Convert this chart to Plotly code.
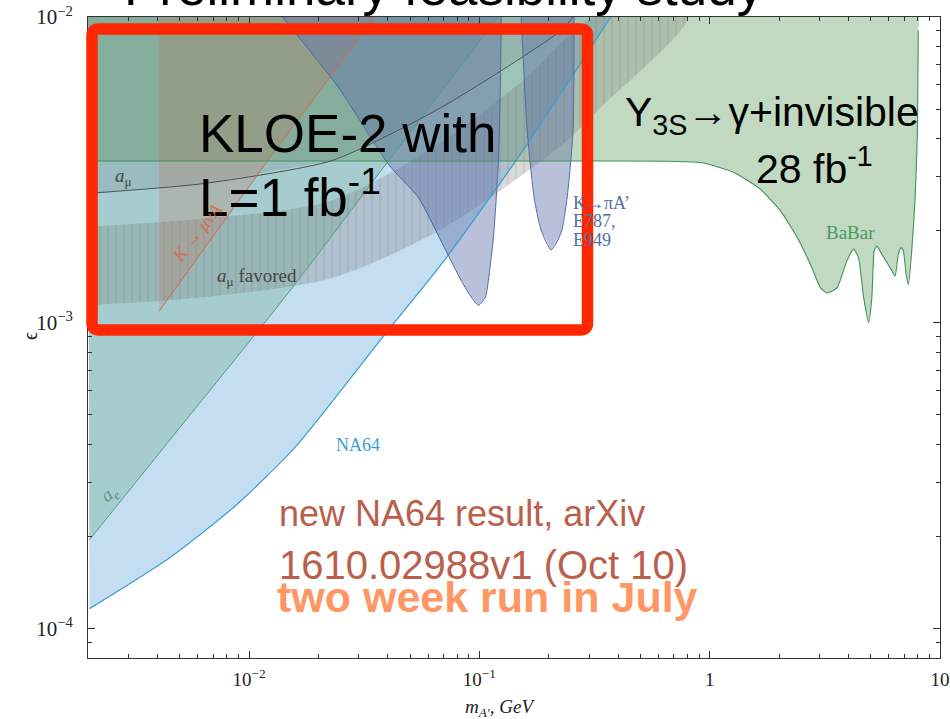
import plotly.graph_objects as go

# ---------------- data (m in GeV, eps) ----------------
M_MIN, M_MAX = 0.002, 10.0
EPS_MIN, EPS_MAX = 8.0e-5, 1.0e-2

# NA64 lower boundary
na64_m = [0.00203, 0.00451, 0.00869, 0.0158, 0.0388, 0.0705, 0.157, 0.372]
na64_eps = [1.16e-4, 1.70e-4, 2.51e-4, 3.90e-4, 9.14e-4, 1.60e-3, 3.72e-3, 1.0e-2]

# a_e boundary
ae_m = [0.00203, 0.00501, 0.0143, 0.0404, 0.0794, 0.120]
ae_eps = [1.95e-4, 4.54e-4, 1.21e-3, 3.39e-3, 6.61e-3, 1.0e-2]

# BaBar (Y3S -> gamma + invisible)
babar_m = [0.00203, 0.337, 0.914, 1.274, 1.663, 2.03, 2.40, 2.74, 3.03, 3.24, 3.57,
           3.94, 4.22, 4.43, 4.66, 4.90, 5.06, 5.18, 5.32, 5.60, 6.08, 6.38, 6.59,
           6.78, 6.93, 7.13, 7.29, 7.54, 7.80, 7.98, 8.05, 8.05]
babar_eps = [3.38e-3, 3.38e-3, 3.34e-3, 3.10e-3, 2.73e-3, 2.32e-3, 1.90e-3, 1.55e-3,
             1.30e-3, 1.25e-3, 1.30e-3, 1.59e-3, 1.74e-3, 1.63e-3, 1.21e-3, 1.00e-3,
             1.21e-3, 1.72e-3, 1.78e-3, 1.67e-3, 1.51e-3, 1.42e-3, 1.67e-3, 1.76e-3,
             1.72e-3, 1.44e-3, 1.33e-3, 1.72e-3, 2.56e-3, 4.24e-3, 9.02e-3, 1.0e-2]

# a_mu exclusion line
amu_m = [0.00203, 0.00631, 0.0229, 0.0684, 0.2265, 0.255]
amu_eps = [2.65e-3, 2.85e-3, 3.39e-3, 5.06e-3, 9.03e-3, 1.0e-2]

# a_mu favoured band (lower and upper edges)
band_lo_m = [0.00203, 0.00631, 0.0229, 0.0684, 0.2265, 0.337, 0.80]
band_lo_eps = [1.14e-3, 1.21e-3, 1.40e-3, 2.02e-3, 3.80e-3, 5.06e-3, 1.0e-2]
band_hi_m = [0.00203, 0.00631, 0.0229, 0.0684, 0.1585, 0.316]
band_hi_eps = [2.06e-3, 2.19e-3, 2.51e-3, 3.89e-3, 6.31e-3, 1.0e-2]

# K -> mu nu A'
kmu_m = [0.00407, 0.0126, 0.0351]
kmu_eps = [1.09e-3, 3.55e-3, 1.0e-2]

# K -> pi A' (E787, E949), two lobes
kpi1_m = [0.0140, 0.0245, 0.0404, 0.0545, 0.0705, 0.0836, 0.0923, 0.0991, 0.1062,
          0.1094, 0.1151, 0.1208, 0.1233, 0.1245]
kpi1_eps = [1.0e-2, 5.87e-3, 3.29e-3, 2.56e-3, 1.76e-3, 1.37e-3, 1.21e-3, 1.14e-3,
            1.21e-3, 1.37e-3, 1.90e-3, 3.29e-3, 5.87e-3, 1.0e-2]
kpi2_m = [0.152, 0.1614, 0.173, 0.1854, 0.205, 0.2265, 0.2404, 0.2553, 0.2576]
kpi2_eps = [1.0e-2, 4.25e-3, 2.56e-3, 2.01e-3, 1.73e-3, 1.97e-3, 2.56e-3, 4.25e-3, 1.0e-2]

x_tickvals = [0.01, 0.1, 1, 10]
x_ticktext = ["10<sup>\u22122</sup>", "10<sup>\u22121</sup>", "1", "10"]
y_tickvals = [1e-4, 1e-3, 1e-2]
y_ticktext = ["10<sup>\u22124</sup>", "10<sup>\u22123</sup>", "10<sup>\u22122</sup>"]

# ---------------- figure ----------------
fig = go.Figure()

def region(xs, ys, fill):
    fig.add_trace(go.Scatter(x=xs, y=ys, mode="lines", fill="toself", fillcolor=fill,
                             line=dict(width=0), hoverinfo="skip", showlegend=False))

def curve(xs, ys, color, width=1.1, shape="spline", smoothing=0.6):
    fig.add_trace(go.Scatter(x=xs, y=ys, mode="lines",
                             line=dict(color=color, width=width, shape=shape, smoothing=smoothing),
                             hoverinfo="skip", showlegend=False))

# NA64 (region above the curve)
region(na64_m + [M_MIN], na64_eps + [EPS_MAX], "rgba(110,170,220,0.40)")
# a_e
region(ae_m + [M_MIN], ae_eps + [EPS_MAX], "rgba(100,170,140,0.32)")
# BaBar
fig.add_trace(go.Scatter(x=babar_m + [M_MIN], y=babar_eps + [EPS_MAX], mode="lines",
                         fill="toself", fillcolor="rgba(100,160,100,0.40)",
                         line=dict(width=0, shape="spline", smoothing=0.5),
                         hoverinfo="skip", showlegend=False))
# a_mu exclusion
region(amu_m + [M_MIN], amu_eps + [EPS_MAX], "rgba(100,100,115,0.16)")
# a_mu favoured band (hatched)
fig.add_trace(go.Scatter(
    x=band_lo_m + band_hi_m[::-1],
    y=band_lo_eps + band_hi_eps[::-1],
    mode="lines", fill="toself", fillcolor="rgba(120,120,120,0.30)",
    fillpattern=dict(shape="|", size=8, solidity=0.12,
                     fgcolor="rgba(90,90,90,0.45)", bgcolor="rgba(120,120,120,0.28)"),
    line=dict(width=0, shape="spline", smoothing=0.8), hoverinfo="skip", showlegend=False))
# K -> mu nu A
region([kmu_m[0]] + kmu_m, [EPS_MAX] + kmu_eps, "rgba(190,115,80,0.25)")
# K -> pi A
region(kpi1_m, kpi1_eps, "rgba(100,115,170,0.45)")
region(kpi2_m, kpi2_eps, "rgba(100,115,170,0.45)")

curve(na64_m, na64_eps, "#3a9fd2", 1.3)
curve(ae_m, ae_eps, "#4e9e7e", 1.0)
curve(babar_m[:-1], babar_eps[:-1], "#3f9258", 1.1, "spline", 0.5)
curve(amu_m, amu_eps, "#4d4d55", 1.0)
curve(kmu_m, kmu_eps, "#d46a4a", 1.0, "linear")
curve(kpi1_m, kpi1_eps, "#4a6aa8", 1.0)
curve(kpi2_m, kpi2_eps, "#4a6aa8", 1.0)

# minor ticks
x_minor = [k * 10.0 ** e for e in range(-3, 1) for k in range(2, 10)]
y_minor = [k * 10.0 ** e for e in range(-5, -2) for k in range(2, 10)]

axis_common = dict(type="log", showgrid=False, zeroline=False, showline=True,
                   linecolor="#333", linewidth=1, mirror="ticks", ticks="inside",
                   ticklen=7, tickcolor="#333", automargin=False)

fig.update_xaxes(range=[-2.699, 1.0], tickvals=x_tickvals, ticktext=x_ticktext,
                 ticklabelstandoff=4,
                 tickfont=dict(family="Liberation Serif", size=19, color="#222"),
                 minor=dict(tickvals=x_minor, ticks="inside", ticklen=4, tickcolor="#333"),
                 **axis_common)
fig.update_yaxes(range=[-4.097, -2.0], tickvals=y_tickvals, ticktext=y_ticktext,
                 ticklabelstandoff=10,
                 tickfont=dict(family="Liberation Serif", size=21, color="#222"),
                 minor=dict(tickvals=y_minor, ticks="inside", ticklen=4, tickcolor="#333"),
                 **axis_common)

L, R, T, B = 88, 940, 17, 658
def P(px, py):
    return (px - L) / (R - L), (B - py) / (B - T)

def ann(text, px, py, size, color, family="Liberation Sans", xanchor="left",
        angle=0, yanchor="middle"):
    x, y = P(px, py)
    return dict(text=text, x=x, y=y, xref="paper", yref="paper", showarrow=False,
                xanchor=xanchor, yanchor=yanchor, textangle=angle,
                font=dict(family=family, size=size, color=color))

serif = "Liberation Serif"
brown = "rgb(185,95,75)"
kpi_col = "#5070a8"
anns = [
    ann("Preliminary feasibility study", 444, -13, 53, "black", xanchor="center"),
    ann("KLOE-2 with", 197, 133, 53, "black"),
    ann("L=1 fb<sup>-1</sup>", 197, 193, 53, "black"),
    ann("Y<sub>3S</sub>\u2192\u03b3+invisible", 623, 115, 41, "black"),
    ann("28 fb<sup>-1</sup>", 754, 166, 41, "black"),
    ann("new NA64 result, arXiv", 277, 513, 36, brown),
    ann("1610.02988v1 (Oct 10)", 277, 565, 40, brown),
    ann("<b>two week run in July</b>", 275, 597, 43, "rgb(255,150,100)"),
    ann("NA64", 358, 445, 18, "#3a9fd2", family=serif, xanchor="center"),
    ann("BaBar", 850, 232, 19, "#4d9a62", family=serif, xanchor="center"),
    ann("K\u2192\u03c0A\u2019", 571, 203, 18, kpi_col, family=serif),
    ann("E787,", 571, 221, 18, kpi_col, family=serif),
    ann("E949", 571, 240, 18, kpi_col, family=serif),
    ann("<i>a</i><sub>\u03bc</sub>", 123, 177, 19, "#444", family=serif, xanchor="center"),
    ann("<i>a</i><sub>\u03bc</sub> favored", 257, 277, 19, "#444", family=serif, xanchor="center"),
    ann("<i>a<sub>e</sub></i>", 110, 494, 19, "#5a9a7a", family=serif, xanchor="center", angle=-38),
    ann("<i>K \u2192 \u03bc\u03bdA</i>", 197, 233, 18, "#d07050", family=serif, xanchor="center", angle=-52),
    ann("\u03f5", 30, 336, 20, "#222", family=serif, xanchor="center", angle=-90),
    ann("<i>m<sub>A\u2032</sub>, GeV</i>", 500, 708, 19, "#222", family=serif, xanchor="center"),
]

# red box with rounded corners
bl, br, bt, bb, r = 92, 587.5, 29, 330, 7
def pt(px, py):
    x, y = P(px, py)
    return f"{x:.5f},{y:.5f}"
path = (f"M {pt(bl + r, bt)} L {pt(br - r, bt)} Q {pt(br, bt)} {pt(br, bt + r)} "
        f"L {pt(br, bb - r)} Q {pt(br, bb)} {pt(br - r, bb)} "
        f"L {pt(bl + r, bb)} Q {pt(bl, bb)} {pt(bl, bb - r)} "
        f"L {pt(bl, bt + r)} Q {pt(bl, bt)} {pt(bl + r, bt)} Z")

fig.update_layout(
    width=950, height=719,
    margin=dict(l=L, r=950 - R, t=T, b=719 - B, pad=0, autoexpand=False),
    paper_bgcolor="white", plot_bgcolor="white",
    showlegend=False,
    annotations=anns,
    shapes=[dict(type="path", path=path, xref="paper", yref="paper",
                 line=dict(color="rgb(255,38,0)", width=11.5), layer="above")],
)

fig.write_html("out.html")
